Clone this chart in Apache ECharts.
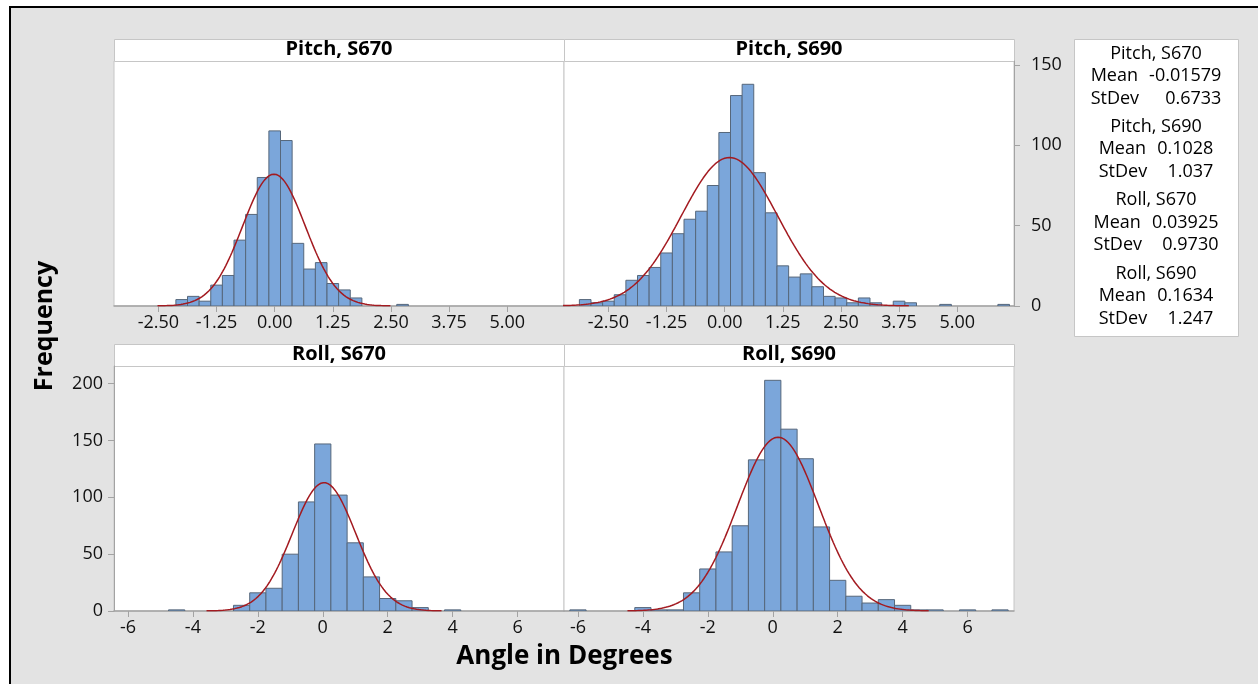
<!DOCTYPE html>
<html>
<head>
<meta charset="utf-8">
<script src="https://cdn.jsdelivr.net/npm/echarts@6/dist/echarts.min.js"></script>
<style>
  html, body { margin: 0; padding: 0; background: #ffffff; }
  #chart { width: 1258px; height: 684px; }
</style>
</head>
<body>
<div id="chart"></div>
<script>
// ---- Histogram data: bin centres and frequencies per panel ----
const pitchBinWidth = 0.25;
const rollBinWidth = 0.5;

const pitch670Centers = [-2, -1.75, -1.5, -1.25, -1, -0.75, -0.5, -0.25, 0, 0.25, 0.5, 0.75, 1, 1.25, 1.5, 1.75, 2.75];
const pitch670Counts  = [4, 6, 3, 13, 19, 41, 57, 80, 109, 103, 39, 23, 27, 14, 10, 5, 1];

const pitch690Centers = [-3, -2.75, -2.5, -2.25, -2, -1.75, -1.5, -1.25, -1, -0.75, -0.5, -0.25, 0, 0.25, 0.5, 0.75, 1, 1.25, 1.5, 1.75, 2, 2.25, 2.5, 2.75, 3, 3.25, 3.75, 4, 4.75, 6];
const pitch690Counts  = [4, 2, 3, 7, 16, 19, 24, 33, 45, 54, 59, 75, 108, 131, 138, 83, 58, 25, 18, 20, 12, 6, 5, 2, 5, 2, 3, 2, 1, 1];

const roll670Centers = [-4.5, -2.5, -2, -1.5, -1, -0.5, 0, 0.5, 1, 1.5, 2, 2.5, 3, 4];
const roll670Counts  = [1, 5, 16, 20, 50, 96, 147, 102, 60, 30, 11, 9, 3, 1];

const roll690Centers = [-6, -4, -3.5, -3, -2.5, -2, -1.5, -1, -0.5, 0, 0.5, 1, 1.5, 2, 2.5, 3, 3.5, 4, 4.5, 5, 6, 7];
const roll690Counts  = [1, 3, 1, 1, 16, 37, 52, 75, 133, 203, 160, 134, 74, 27, 13, 7, 10, 5, 1, 1, 1, 1];

// ---- Fitted normal parameters shown in the summary box ----
const panelTitles = ['Pitch, S670', 'Pitch, S690', 'Roll, S670', 'Roll, S690'];
const panelMeans  = [-0.01579, 0.1028, 0.03925, 0.1634];
const panelStDevs = [0.6733, 1.037, 0.9730, 1.247];

// ---- Axis tick values ----
const pitchTicks = [-2.5, -1.25, 0, 1.25, 2.5, 3.75, 5];
const rollTicks = [-6, -4, -2, 0, 2, 4, 6];
const pitchFreqTicks = [0, 50, 100, 150];
const rollFreqTicks = [0, 50, 100, 150, 200];

// ---- Styling / layout ----
const FONT = '"Open Sans", "Noto Sans", "DejaVu Sans", sans-serif';
const BAR_FILL = '#7ba6da';
const BAR_EDGE = '#56677b';
const CURVE = '#a31a20';
const AXIS_GREY = '#a3a3a3';
const FRAME_GREY = '#c6c6c6';
const CURVE_SPAN = 3.72; // fitted curve drawn over mean ± this many SDs

const colLeft = [114, 564];
const panelWidth = 450;
const stripTop = [39, 344];
const stripHeight = 22;
const plotTop = [61, 366];
const plotHeight = 245;

function binRects(centers, counts, width) {
  return centers.map((c, i) => [c - width / 2, c + width / 2, counts[i]]);
}

function fittedCurve(mean, sd, counts, width) {
  const n = counts.reduce((a, b) => a + b, 0);
  const scale = n * width / (sd * Math.sqrt(2 * Math.PI));
  const lo = mean - CURVE_SPAN * sd;
  const hi = mean + CURVE_SPAN * sd;
  const steps = 300;
  const pts = [];
  for (let i = 0; i <= steps; i++) {
    const x = lo + (hi - lo) * i / steps;
    const z = (x - mean) / sd;
    pts.push([x, scale * Math.exp(-0.5 * z * z)]);
  }
  return pts;
}

function renderBin(params, api) {
  const x0 = api.value(0), x1 = api.value(1), h = api.value(2);
  const p0 = api.coord([x0, 0]);
  const p1 = api.coord([x1, h]);
  return {
    type: 'rect',
    shape: { x: p0[0], y: p1[1], width: p1[0] - p0[0], height: p0[1] - p1[1] },
    style: { fill: BAR_FILL, stroke: BAR_EDGE, lineWidth: 1 }
  };
}

const panels = [
  { centers: pitch670Centers, counts: pitch670Counts, width: pitchBinWidth, row: 0, col: 0 },
  { centers: pitch690Centers, counts: pitch690Counts, width: pitchBinWidth, row: 0, col: 1 },
  { centers: roll670Centers,  counts: roll670Counts,  width: rollBinWidth,  row: 1, col: 0 },
  { centers: roll690Centers,  counts: roll690Counts,  width: rollBinWidth,  row: 1, col: 1 }
];

const grids = panels.map(p => ({
  left: colLeft[p.col], top: plotTop[p.row], width: panelWidth, height: plotHeight,
  show: true, backgroundColor: '#ffffff', borderColor: FRAME_GREY, borderWidth: 1,
  containLabel: false, outerBoundsMode: 'none'
}));

const tickLabelStyle = { fontFamily: FONT, fontSize: 18, color: '#111111' };

const xAxes = panels.map((p, i) => {
  const isPitch = p.row === 0;
  const ticks = isPitch ? pitchTicks : rollTicks;
  return {
    type: 'value', gridIndex: i,
    min: isPitch ? -3.456 : -6.43,
    max: isPitch ? 6.222 : 7.43,
    axisLine: { show: true, onZero: false, lineStyle: { color: AXIS_GREY, width: 1.5 } },
    axisTick: { show: true, length: 6, customValues: ticks, lineStyle: { color: AXIS_GREY } },
    axisLabel: {
      show: true, margin: 8, customValues: ticks,
      formatter: v => isPitch ? v.toFixed(2) : String(v),
      ...tickLabelStyle
    },
    splitLine: { show: false }
  };
});

const yAxes = panels.map((p, i) => {
  const isPitch = p.row === 0;
  const ticks = isPitch ? pitchFreqTicks : rollFreqTicks;
  const visible = (p.row === 0 && p.col === 1) || (p.row === 1 && p.col === 0);
  return {
    type: 'value', gridIndex: i,
    position: p.row === 0 ? 'right' : 'left',
    min: 0,
    max: isPitch ? 152.5 : 215.6,
    axisLine: { show: visible, onZero: false, lineStyle: { color: AXIS_GREY } },
    axisTick: { show: visible, length: 6, customValues: ticks, lineStyle: { color: AXIS_GREY } },
    axisLabel: {
      show: visible, margin: p.row === 0 ? 17 : 11, customValues: ticks,
      ...tickLabelStyle
    },
    splitLine: { show: false }
  };
});

const series = [];
panels.forEach((p, i) => {
  series.push({
    type: 'custom', xAxisIndex: i, yAxisIndex: i, clip: true, z: 2,
    renderItem: renderBin,
    encode: { x: [0, 1], y: 2 },
    data: binRects(p.centers, p.counts, p.width)
  });
  series.push({
    type: 'line', xAxisIndex: i, yAxisIndex: i, clip: true, z: 3,
    showSymbol: false, symbol: 'none', smooth: false, silent: true,
    lineStyle: { color: CURVE, width: 1.5 },
    data: fittedCurve(panelMeans[i], panelStDevs[i], p.counts, p.width)
  });
});

// ---- Strip headers, axis titles, summary box, page frame ----
const graphics = [
  { type: 'rect', shape: { x: 0, y: 0, width: 1258, height: 6 }, style: { fill: '#ffffff' }, silent: true },
  { type: 'rect', shape: { x: 0, y: 0, width: 9, height: 684 }, style: { fill: '#ffffff' }, silent: true },
  { type: 'rect', shape: { x: 9, y: 6, width: 2, height: 678 }, style: { fill: '#000000' }, silent: true },
  { type: 'rect', shape: { x: 9, y: 6, width: 1249, height: 2 }, style: { fill: '#000000' }, silent: true }
];

panels.forEach((p, i) => {
  const x = colLeft[p.col], y = stripTop[p.row];
  graphics.push({
    type: 'rect', silent: true,
    shape: { x: x + 0.5, y: y + 0.5, width: panelWidth, height: stripHeight },
    style: { fill: '#ffffff', stroke: FRAME_GREY, lineWidth: 1 }
  });
  graphics.push({
    type: 'text', silent: true,
    x: x + panelWidth / 2, y: y + stripHeight / 2 - 1,
    style: {
      text: panelTitles[i], fontFamily: FONT, fontSize: 20, fontWeight: 'bold',
      fill: '#000000', align: 'center', verticalAlign: 'middle'
    }
  });
});

graphics.push({
  type: 'text', silent: true, x: 45, y: 326, rotation: Math.PI / 2,
  style: {
    text: 'Frequency', fontFamily: FONT, fontSize: 25, fontWeight: 'bold',
    fill: '#000000', align: 'center', verticalAlign: 'middle'
  }
});
graphics.push({
  type: 'text', silent: true, x: 564.5, y: 657,
  style: {
    text: 'Angle in Degrees', fontFamily: FONT, fontSize: 26, fontWeight: 'bold',
    fill: '#000000', align: 'center', verticalAlign: 'middle'
  }
});

// Summary box with Mean / StDev for every panel
const boxLeft = 1074, boxTop = 39, boxWidth = 164, boxHeight = 297;
graphics.push({
  type: 'rect', silent: true,
  shape: { x: boxLeft + 0.5, y: boxTop + 0.5, width: boxWidth, height: boxHeight },
  style: { fill: '#ffffff', stroke: FRAME_GREY, lineWidth: 1 }
});

const measureCtx = document.createElement('canvas').getContext('2d');
const boxFontSize = 18;
measureCtx.font = boxFontSize + 'px ' + FONT;
const textW = s => measureCtx.measureText(s).width;
const boxCx = boxLeft + boxWidth / 2;
const blockStep = 73.3, lineStep = 22.5, firstLine = 53.5, colGap = 10;

panelTitles.forEach((title, i) => {
  const y0 = firstLine + i * blockStep;
  const meanStr = panelMeans[i].toPrecision(4);
  const sdStr = panelStDevs[i].toPrecision(4);
  const labelW = Math.max(textW('Mean'), textW('StDev'));
  const valueW = Math.max(textW(meanStr), textW(sdStr));
  const blockW = labelW + colGap + valueW;
  const left = boxCx - blockW / 2, right = boxCx + blockW / 2;
  const base = { fontFamily: FONT, fontSize: boxFontSize, fill: '#000000', verticalAlign: 'middle' };
  graphics.push({ type: 'text', silent: true, x: boxCx, y: y0, style: { ...base, text: title, align: 'center' } });
  graphics.push({ type: 'text', silent: true, x: left, y: y0 + lineStep, style: { ...base, text: 'Mean', align: 'left' } });
  graphics.push({ type: 'text', silent: true, x: right, y: y0 + lineStep, style: { ...base, text: meanStr, align: 'right' } });
  graphics.push({ type: 'text', silent: true, x: left, y: y0 + 2 * lineStep, style: { ...base, text: 'StDev', align: 'left' } });
  graphics.push({ type: 'text', silent: true, x: right, y: y0 + 2 * lineStep, style: { ...base, text: sdStr, align: 'right' } });
});

const chart = echarts.init(document.getElementById('chart'), null, { renderer: 'canvas' });
chart.setOption({
  backgroundColor: '#e3e3e3',
  animation: false,
  grid: grids,
  xAxis: xAxes,
  yAxis: yAxes,
  series: series,
  graphic: { elements: graphics }
});
</script>
</body>
</html>
